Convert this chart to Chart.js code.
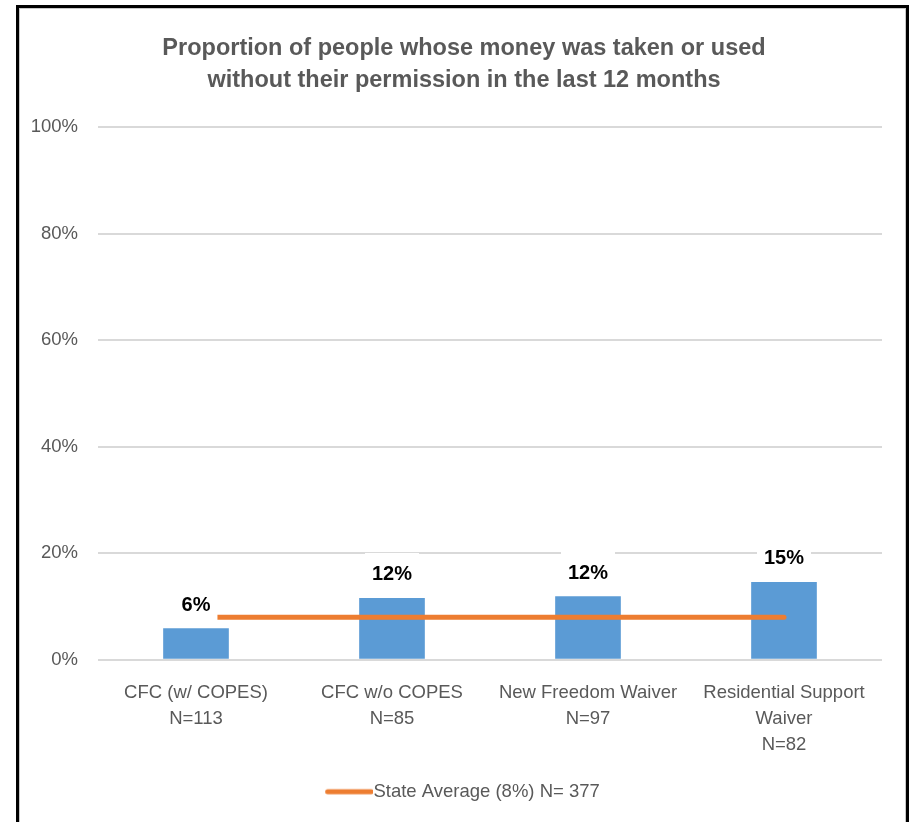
<!DOCTYPE html>
<html>
<head>
<meta charset="utf-8">
<script src="https://cdn.jsdelivr.net/npm/chart.js@4.4.1/dist/chart.umd.min.js"></script>
<style>
  body { margin: 0; background: #fff; }
  #wrap { position: relative; width: 909px; height: 822px; }
  #myBarChart { position: absolute; left: 0; top: 0; }
  .frame {
    position: absolute; left: 16px; top: 5px; width: 893px; height: 830px;
    box-sizing: border-box;
    border: 3px solid #000; border-bottom: none;
    box-shadow: inset 1px 1px 0 #c8c8c8, inset -1px 0 0 #c8c8c8;
    pointer-events: none;
  }
</style>
</head>
<body>
<div id="wrap">
  <canvas id="myBarChart" width="909" height="822"></canvas>
  <div class="frame"></div>
</div>
<script>
const titleLines = ['Proportion of people whose money was taken or used', 'without their permission in the last 12 months']
const programs = [
  ['CFC (w/ COPES)', 'N=113'],
  ['CFC w/o COPES', 'N=85'],
  ['New Freedom Waiver', 'N=97'],
  ['Residential Support', 'Waiver', 'N=82']
]
const takenPct = [5.9, 11.6, 11.9, 14.6]
const stateAvg = [8, 8, 8, 8]
const stateLabel = 'State Average (8%) N= 377'
const yTicks = [0, 20, 40, 60, 80, 100]

const grey = '#595959'
const blue = '#5B9BD5'
const orange = '#ED7D31'
Chart.defaults.font.family = "'Liberation Sans', Arial, sans-serif"

// little orange stroke for the legend, so it touches the text like in excel
let legendLine = document.createElement('canvas')
legendLine.width = 54
legendLine.height = 8
let lctx = legendLine.getContext('2d')
lctx.strokeStyle = orange
lctx.lineWidth = 5
lctx.lineCap = 'round'
lctx.beginPath()
lctx.moveTo(8.5, 4)
lctx.lineTo(52, 4)
lctx.stroke()

// value labels on top of the bars, white box behind like excel does
const barLabels = {
  id: 'barLabels',
  afterDatasetsDraw(chart) {
    let ctx = chart.ctx
    let meta = chart.getDatasetMeta(0)
    ctx.save()
    ctx.font = 'bold 20px "Liberation Sans", Arial, sans-serif'
    ctx.textAlign = 'center'
    ctx.textBaseline = 'middle'
    meta.data.forEach((bar, i) => {
      let txt = Math.round(takenPct[i]) + '%'
      let w = ctx.measureText(txt).width
      let cy = bar.y - 24
      ctx.fillStyle = '#fff'
      ctx.fillRect(bar.x - w / 2 - 7, cy - 21, w + 14, 42)
      ctx.fillStyle = '#000'
      ctx.fillText(txt, bar.x, cy + 1)
    })
    ctx.restore()
  }
}

const ctx = document.getElementById('myBarChart').getContext('2d')
new Chart(ctx, {
  type: 'bar',
  data: {
    labels: programs,
    datasets: [{
      label: 'Proportion',
      data: takenPct,
      backgroundColor: blue,
      categoryPercentage: 1,
      barPercentage: 0.335,
      order: 1
    }, {
      type: 'line',
      label: stateLabel,
      data: stateAvg,
      borderColor: orange,
      backgroundColor: orange,
      borderWidth: 5,
      borderCapStyle: 'round',
      pointRadius: 0,
      order: 0
    }]
  },
  options: {
    responsive: false,
    animation: false,
    layout: { padding: { left: 19, right: 0, top: 0, bottom: 11 } },
    plugins: {
      title: {
        display: true,
        text: titleLines,
        color: grey,
        font: { size: 23.5, weight: 'bold', lineHeight: 32 / 23.5 },
        padding: { top: 33, bottom: 30 }
      },
      legend: {
        position: 'bottom',
        labels: {
          filter: (item) => item.datasetIndex === 1,
          usePointStyle: true,
          pointStyle: legendLine,
          pointStyleWidth: 36,
          color: grey,
          font: { size: 18.5 },
          padding: 10
        }
      },
      tooltip: { enabled: false }
    },
    scales: {
      x: {
        grid: { display: false },
        border: { display: false },
        ticks: {
          color: grey,
          font: { size: 18.5, lineHeight: 26 / 18.5 },
          padding: 12,
          maxRotation: 0,
          autoSkip: false
        },
        afterFit: (scale) => { scale.height = 112.75 }
      },
      y: {
        min: 0,
        max: 100,
        afterBuildTicks: (scale) => { scale.ticks = yTicks.map(v => ({ value: v })) },
        grid: { color: '#d9d9d9', lineWidth: 2, drawTicks: false },
        border: { display: false },
        ticks: {
          color: grey,
          font: { size: 18.5 },
          padding: 20,
          callback: (v) => v + '%'
        },
        afterFit: (scale) => { scale.width = 79 }
      },
      yRight: {
        position: 'right',
        display: true,
        grid: { display: false },
        border: { display: false },
        ticks: { display: false },
        afterFit: (scale) => { scale.width = 27 }
      }
    }
  },
  plugins: [barLabels]
})
</script>
</body>
</html>
